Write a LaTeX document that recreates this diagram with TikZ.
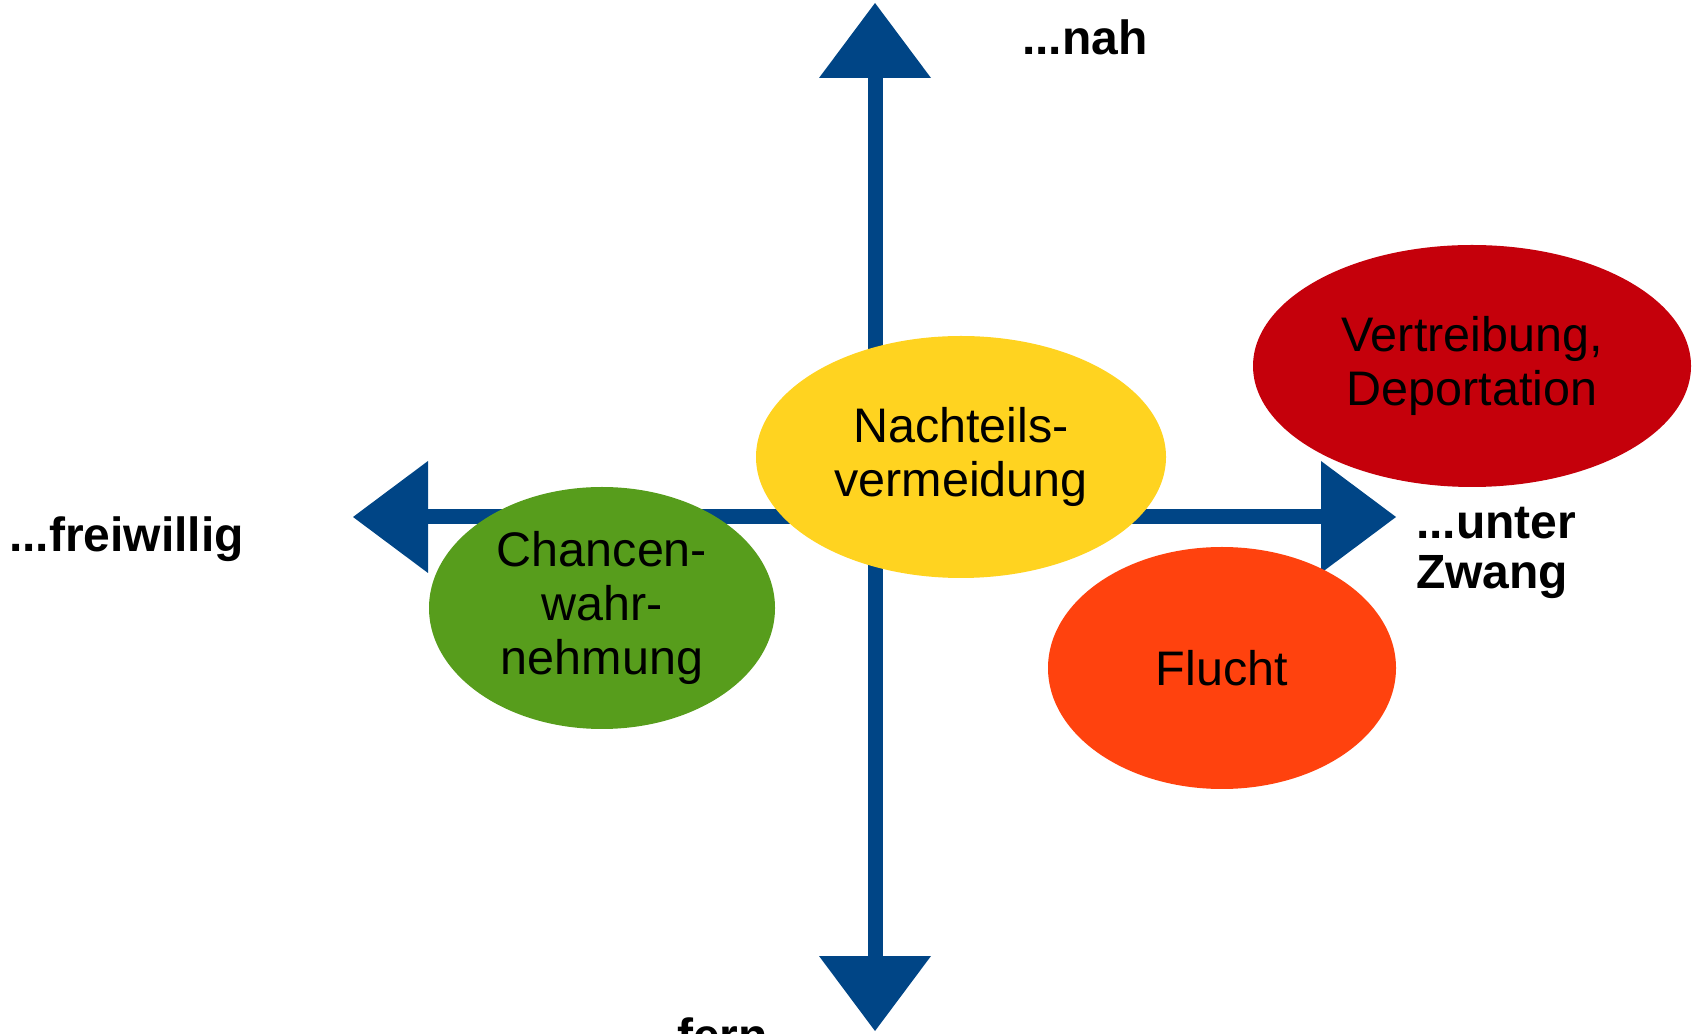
\documentclass[tikz,border=0pt]{standalone}
\usepackage{fontspec}
\setmainfont{Liberation Sans}
\usepackage{tikz}
\usetikzlibrary{arrows.meta,shapes}
\usetikzlibrary{positioning}
\definecolor{axisblue}{HTML}{004586}
\definecolor{chgreen}{HTML}{579D1C}
\definecolor{chyellow}{HTML}{FFD320}
\definecolor{chred}{HTML}{C5000B}
\definecolor{chorange}{HTML}{FF420E}
\tikzstyle{axis}=[draw=axisblue,line width=15pt,<->,>={Triangle[length=75pt,width=112pt,line width=0pt]}]
\tikzstyle{motiv}=[ellipse,inner sep=0,minimum height=242pt,align=center,
                   font=\fontsize{48.5}{54}\selectfont]
\tikzstyle{pole}=[inner sep=0,align=left,font=\fontsize{48}{50}\selectfont\bfseries]

\begin{document}
\begin{tikzpicture}[x=1pt,y=1pt]
\useasboundingbox (0,0) rectangle (1693,1033);

\coordinate (top) at (875,1030);
\coordinate (bot) at (875,2);
\coordinate (west) at (353,516);
\coordinate (east) at (1396,516);

\draw[axis] (bot) -- (top);
\draw[axis] (west) -- (east);

\node[motiv,fill=chyellow,minimum width=410pt] (nachteil) at (961,576) {Nachteils-\\vermeidung};
\node[motiv,fill=chgreen,minimum width=346pt] (chance) at (602,425) {Chancen-\\wahr-\\nehmung};
\node[motiv,fill=chred,minimum width=438pt] (vertr) at (1472,667) {Vertreibung,\\Deportation};
\node[motiv,fill=chorange,minimum width=348pt] (flucht) at (1222,365) {Flucht};

\node[pole,anchor=base west] (nah) at (1022,978) {...nah};
\node[pole,anchor=base west] (frei) at (9,481) {...freiwillig};
\node[pole,anchor=base west] (zwang) at (1416,444) {...unter\\Zwang};
\node[pole,anchor=base west] (fern) at (677,-19) {fern};

\end{tikzpicture}
\end{document}
